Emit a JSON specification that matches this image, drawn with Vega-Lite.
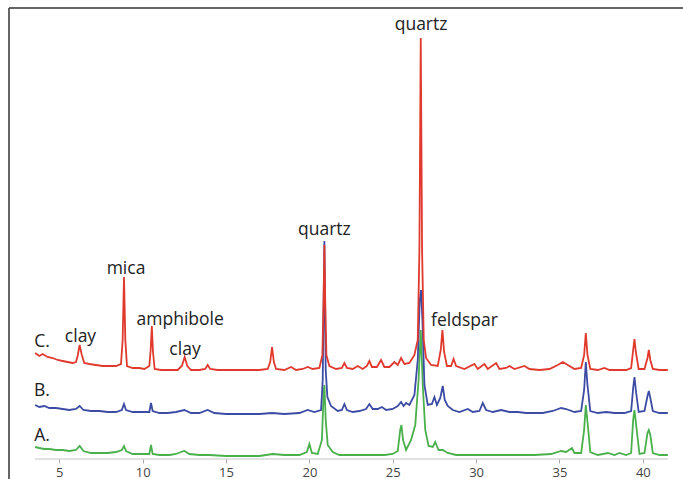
{
  "$schema": "https://vega.github.io/schema/vega-lite/v6.json",
  "width": 674,
  "height": 471,
  "autosize": {"type": "none"},
  "padding": {"left": 9, "top": 8, "right": 0, "bottom": 0},
  "background": "white",
  "config": {"view": {"stroke": null}},
  "datasets": {
    "C": [
      [3.55,126],[3.8,123],[4.0,125],[4.3,122],[4.6,121],[4.9,119],[5.2,118],[5.5,117],[5.8,116],[6.0,117],[6.1,123],[6.22,134],[6.35,124],[6.5,116],[6.8,115],[7.2,114],[7.6,113],[8.0,113],[8.4,113],[8.7,115],[8.8,139],[8.88,202],[8.96,139],[9.06,113],[9.4,111],[9.8,111],[10.1,110],[10.4,113],[10.48,129],[10.55,153],[10.62,127],[10.72,110],[11.1,109],[11.6,109],[12.1,109],[12.35,113],[12.52,122],[12.68,113],[12.9,109],[13.4,109],[13.75,110],[13.9,114],[14.05,110],[14.5,109],[15.0,109],[15.5,109],[16.0,109],[16.5,109],[17.0,109],[17.5,110],[17.65,117],[17.76,132],[17.87,117],[18.0,110],[18.5,109],[18.9,112],[19.2,109],[19.6,110],[19.9,112],[20.2,110],[20.6,111],[20.78,124],[20.85,179],[20.9,234],[20.95,179],[21.02,124],[21.2,113],[21.6,110],[21.95,111],[22.1,116],[22.25,111],[22.6,110],[22.9,113],[23.2,110],[23.45,113],[23.6,118],[23.75,112],[24.05,112],[24.3,119],[24.5,112],[24.8,112],[25.1,117],[25.3,114],[25.5,121],[25.7,115],[26.0,116],[26.3,124],[26.5,139],[26.6,229],[26.68,441],[26.76,229],[26.86,139],[27.0,121],[27.3,114],[27.7,113],[27.88,129],[27.98,149],[28.08,127],[28.25,113],[28.5,113],[28.65,120],[28.8,113],[29.3,110],[29.9,115],[30.1,110],[30.5,115],[30.7,110],[31.2,116],[31.4,110],[31.8,111],[32.0,113],[32.3,110],[32.9,113],[33.2,110],[33.8,109],[34.4,110],[34.9,114],[35.2,117],[35.5,114],[35.9,110],[36.3,111],[36.48,124],[36.58,146],[36.68,124],[36.85,110],[37.3,109],[37.7,111],[38.0,109],[38.5,109],[39.0,109],[39.3,111],[39.42,129],[39.5,140],[39.58,127],[39.75,110],[40.1,110],[40.28,121],[40.36,129],[40.45,119],[40.6,110],[41.0,109],[41.5,109]
    ],
    "B": [
      [3.55,74],[3.8,72],[4.1,73],[4.4,71],[4.8,71],[5.2,70],[5.6,69],[6.0,70],[6.22,73],[6.45,69],[6.9,68],[7.4,68],[7.9,67],[8.4,67],[8.75,69],[8.88,75],[9.0,69],[9.4,67],[9.9,67],[10.4,67],[10.5,76],[10.6,68],[11.0,66],[11.5,66],[12.0,67],[12.5,69],[12.9,66],[13.4,66],[13.9,69],[14.3,66],[15.0,65],[16.0,65],[17.0,65],[17.76,66],[18.5,65],[19.4,66],[19.9,69],[20.3,67],[20.7,69],[20.8,99],[20.9,238],[20.98,109],[21.08,82],[21.3,73],[21.7,68],[21.95,69],[22.1,75],[22.25,69],[22.6,67],[23.0,68],[23.4,70],[23.6,75],[23.8,70],[24.1,70],[24.35,72],[24.6,69],[25.0,70],[25.3,73],[25.5,77],[25.65,73],[25.8,76],[26.0,74],[26.3,84],[26.5,119],[26.62,179],[26.7,189],[26.78,159],[26.9,94],[27.1,74],[27.35,75],[27.5,82],[27.65,74],[27.85,81],[28.0,93],[28.12,79],[28.3,73],[28.6,69],[29.0,67],[29.5,70],[29.8,67],[30.2,68],[30.4,76],[30.6,69],[31.0,67],[31.5,69],[32.0,67],[32.5,67],[33.0,66],[33.5,66],[34.0,66],[34.6,68],[35.1,71],[35.4,70],[35.9,67],[36.3,68],[36.48,89],[36.58,117],[36.68,94],[36.85,68],[37.3,66],[37.8,67],[38.3,66],[38.9,66],[39.3,68],[39.42,91],[39.5,102],[39.58,89],[39.75,67],[40.1,68],[40.28,83],[40.36,88],[40.45,81],[40.6,68],[41.0,66],[41.5,66]
    ],
    "A": [
      [3.55,32],[3.8,31],[4.1,30],[4.4,30],[4.8,29],[5.2,29],[5.6,28],[6.0,29],[6.22,33],[6.45,28],[6.9,26],[7.4,26],[7.9,26],[8.4,27],[8.75,29],[8.88,33],[9.0,28],[9.4,25],[9.9,25],[10.4,25],[10.5,34],[10.6,25],[11.0,24],[11.6,24],[12.0,25],[12.3,27],[12.5,28],[12.8,25],[13.4,24],[14.0,24],[15.0,23],[16.0,23],[17.0,23],[17.8,25],[18.5,24],[19.4,24],[19.85,27],[20.0,35],[20.15,26],[20.5,25],[20.75,39],[20.85,84],[20.9,94],[20.98,59],[21.1,34],[21.4,27],[21.8,24],[22.5,24],[23.0,24],[23.5,24],[24.0,24],[24.5,24],[25.0,25],[25.3,28],[25.45,49],[25.52,54],[25.62,39],[25.8,29],[26.1,39],[26.35,54],[26.55,99],[26.68,149],[26.8,94],[26.95,49],[27.15,33],[27.4,32],[27.55,37],[27.75,29],[28.0,29],[28.3,26],[28.8,24],[29.5,24],[30.5,24],[31.5,24],[32.5,24],[33.5,24],[34.5,25],[35.1,28],[35.4,27],[35.75,31],[35.9,26],[36.3,26],[36.48,49],[36.58,74],[36.7,54],[36.85,27],[37.3,24],[37.9,26],[38.3,24],[38.6,26],[39.0,24],[39.3,26],[39.42,59],[39.5,69],[39.6,54],[39.8,25],[40.1,26],[40.28,46],[40.36,49],[40.45,44],[40.6,26],[41.0,24],[41.5,24]
    ],
    "labels": [
      {"x": 26.7, "y": 454, "label": "quartz"},
      {"x": 20.9, "y": 249, "label": "quartz"},
      {"x": 9.0, "y": 210, "label": "mica"},
      {"x": 12.25, "y": 159, "label": "amphibole"},
      {"x": 6.27, "y": 142, "label": "clay"},
      {"x": 12.54, "y": 129, "label": "clay"},
      {"x": 29.3, "y": 158, "label": "feldspar"},
      {"x": 3.96, "y": 137, "label": "C."},
      {"x": 3.96, "y": 88, "label": "B."},
      {"x": 3.96, "y": 43, "label": "A."}
    ],
    "one": [{"k": 1}]
  },
  "layer": [
    {
      "data": {"name": "one"},
      "mark": {"type": "rule", "color": "#c4c4c4", "strokeWidth": 1},
      "encoding": {
        "x": {"datum": 3.54, "type": "quantitative"},
        "x2": {"datum": 41.5},
        "y": {"datum": 20, "type": "quantitative"}
      }
    },
    {
      "data": {"name": "one"},
      "mark": {"type": "rule", "color": "#333333", "strokeWidth": 1.5},
      "encoding": {
        "x": {"datum": 1.983, "type": "quantitative"},
        "y": {"datum": 0, "type": "quantitative"},
        "y2": {"datum": 471}
      }
    },
    {
      "data": {"name": "one"},
      "mark": {"type": "rule", "color": "#333333", "strokeWidth": 1.5},
      "encoding": {
        "x": {"datum": 1.983, "type": "quantitative"},
        "x2": {"datum": 42.41},
        "y": {"datum": 471, "type": "quantitative"}
      }
    },
    {
      "data": {"name": "A"},
      "transform": [
        {"calculate": "datum[0]", "as": "x"},
        {"calculate": "datum[1]", "as": "y"}
      ],
      "mark": {"type": "line", "color": "#49b04b", "strokeWidth": 1.8},
      "encoding": {
        "x": {"field": "x", "type": "quantitative"},
        "y": {"field": "y", "type": "quantitative"}
      }
    },
    {
      "data": {"name": "B"},
      "transform": [
        {"calculate": "datum[0]", "as": "x"},
        {"calculate": "datum[1]", "as": "y"}
      ],
      "mark": {"type": "line", "color": "#3c4ba4", "strokeWidth": 1.8},
      "encoding": {
        "x": {"field": "x", "type": "quantitative"},
        "y": {"field": "y", "type": "quantitative"}
      }
    },
    {
      "data": {"name": "C"},
      "transform": [
        {"calculate": "datum[0]", "as": "x"},
        {"calculate": "datum[1]", "as": "y"}
      ],
      "mark": {"type": "line", "color": "#e0392d", "strokeWidth": 1.8},
      "encoding": {
        "x": {"field": "x", "type": "quantitative"},
        "y": {"field": "y", "type": "quantitative"}
      }
    },
    {
      "data": {"name": "labels"},
      "mark": {"type": "text", "font": "Open Sans", "fontSize": 17.5, "color": "#222222", "align": "center", "baseline": "middle"},
      "encoding": {
        "x": {"field": "x", "type": "quantitative"},
        "y": {"field": "y", "type": "quantitative"},
        "text": {"field": "label"}
      }
    }
  ],
  "resolve": {"scale": {"x": "shared", "y": "shared"}},
  "encoding": {
    "x": {
      "type": "quantitative",
      "scale": {"domain": [1.983, 42.41], "nice": false, "zero": false},
      "axis": {"values": [5, 10, 15, 20, 25, 30, 35, 40], "domain": false, "offset": -20, "tickSize": 4, "tickColor": "#aaaaaa", "labelFontSize": 13, "labelColor": "#444444", "labelFont": "Open Sans", "labelPadding": 3, "title": null, "grid": false}
    },
    "y": {
      "type": "quantitative",
      "scale": {"domain": [0, 471], "nice": false, "zero": false},
      "axis": null
    }
  }
}
